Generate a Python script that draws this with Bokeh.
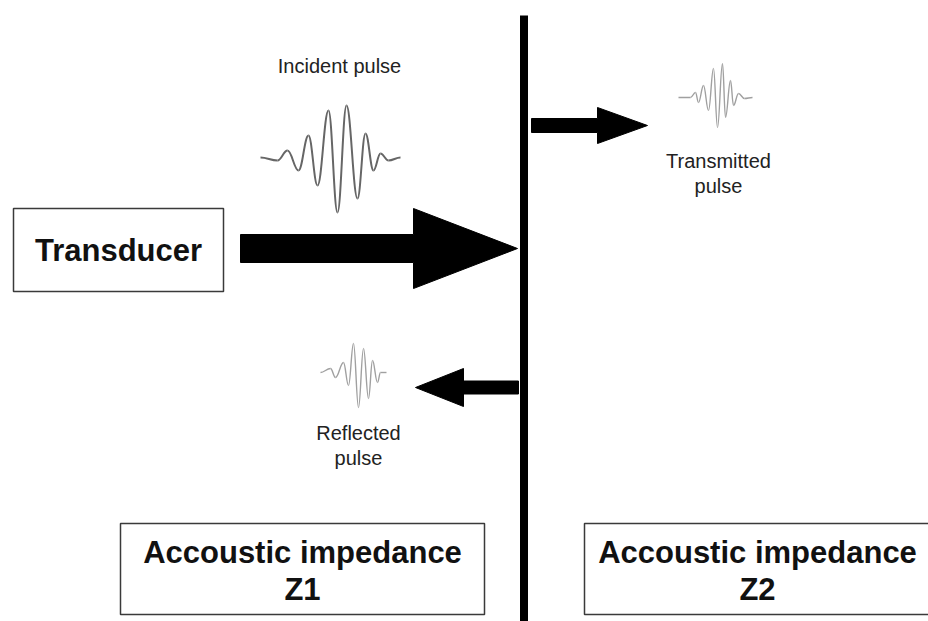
from bokeh.plotting import figure
from bokeh.models import Range1d
from bokeh.core.properties import value
from bokeh.embed import file_html
from bokeh.resources import INLINE

# ---- diagram content (page pixel space, y grows downward) ----
labels_small = ["Incident pulse", "Transmitted", "pulse", "Reflected", "pulse"]
labels_small_x = [339, 718, 718, 358, 358]
labels_small_y = [65, 160, 185, 432, 457]

labels_big = ["Transducer", "Accoustic impedance", "Z1", "Accoustic impedance", "Z2"]
labels_big_x = [118, 302, 302, 757, 757]
labels_big_y = [250, 552, 589, 552, 589]

# boxes: left, right, top, bottom
box_left = [13, 120, 584]
box_right = [223, 484, 934]
box_top = [208, 523, 523]
box_bottom = [291, 614, 614]

# arrows: tail x, tip x, centre y, shaft half height, head base x, head half height
arrow_tail = [240, 531, 518]
arrow_tip = [517, 647, 415]
arrow_y = [248, 125, 387]
arrow_shaft = [14, 7, 6.5]
arrow_head_base = [413, 597, 463]
arrow_head = [40, 18, 19]

# pulse extrema
incident_x = [260, 277, 287, 298, 308, 317, 328, 337, 346, 357, 365, 373, 380, 388, 400]
incident_y = [157, 160, 150, 170, 135, 185, 110, 212, 105, 198, 133, 170, 153, 160, 157]
transmitted_x = [678, 690, 695, 698, 703, 708, 713, 717, 722, 725, 730, 733, 738, 744, 752]
transmitted_y = [97, 97, 92, 102, 85, 110, 68, 127, 63, 117, 80, 105, 93, 98, 97]
reflected_x = [320, 330, 335, 343, 348, 353, 358, 363, 368, 372, 377, 380, 386]
reflected_y = [372, 368, 377, 362, 385, 343, 407, 348, 398, 360, 382, 372, 372]

interface_x = 523.5
interface_top = 15
interface_bottom = 630

p = figure(width=928, height=621, output_backend="svg", toolbar_location=None,
           x_range=Range1d(0, 928), y_range=Range1d(621, 0),
           min_border=0, background_fill_color="white", border_fill_color="white")
p.axis.visible = False
p.grid.visible = False
p.outline_line_color = None

# boxes
p.quad(left=box_left, right=box_right, top=box_top, bottom=box_bottom,
       fill_color="white", line_color="#3a3a3a", line_width=1.5)

# interface line
p.segment(x0=[interface_x], y0=[interface_top], x1=[interface_x], y1=[interface_bottom],
          line_color="black", line_width=8)

# arrows as polygons
xs, ys = [], []
for t, tip, yc, sh, hb, hh in zip(arrow_tail, arrow_tip, arrow_y, arrow_shaft, arrow_head_base, arrow_head):
    xs.append([t, hb, hb, tip, hb, hb, t])
    ys.append([yc - sh, yc - sh, yc - hh, yc, yc + hh, yc + sh, yc + sh])
p.patches(xs=xs, ys=ys, fill_color="black", line_color="black", line_width=1)


def pulse(xv, yv, color, width):
    x0, y0, x1, y1, cx0, cy0, cx1, cy1 = [], [], [], [], [], [], [], []
    for i in range(len(xv) - 1):
        dx = xv[i + 1] - xv[i]
        x0.append(xv[i]); y0.append(yv[i])
        x1.append(xv[i + 1]); y1.append(yv[i + 1])
        cx0.append(xv[i] + 0.4 * dx); cy0.append(yv[i])
        cx1.append(xv[i + 1] - 0.4 * dx); cy1.append(yv[i + 1])
    p.bezier(x0=x0, y0=y0, x1=x1, y1=y1, cx0=cx0, cy0=cy0, cx1=cx1, cy1=cy1,
             line_color=color, line_width=width)


pulse(incident_x, incident_y, "#666666", 2)
pulse(transmitted_x, transmitted_y, "#a0a0a0", 1.4)
pulse(reflected_x, reflected_y, "#a0a0a0", 1.4)

p.text(x=labels_small_x, y=labels_small_y, text=labels_small,
       text_font=value("Liberation Sans"), text_font_size="20px",
       text_color="#222222", text_align="center", text_baseline="middle")
p.text(x=labels_big_x, y=labels_big_y, text=labels_big,
       text_font=value("Liberation Sans"), text_font_size="31px", text_font_style="bold",
       text_color="#111111", text_align="center", text_baseline="middle")

open("out.html", "w").write(file_html(p, INLINE))
